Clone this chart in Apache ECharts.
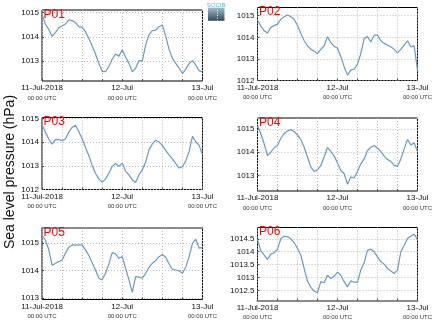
<!DOCTYPE html>
<html>
<head>
<meta charset="utf-8">
<script src="https://cdn.jsdelivr.net/npm/echarts@6/dist/echarts.min.js"></script>
<style>
  html, body { margin: 0; padding: 0; background: #fff; }
  #chart { width: 435px; height: 327px; }
</style>
</head>
<body>
<div id="chart"></div>
<script>
// Hours since 11-Jul-2018 00:00 UTC
const HOURS = [0,1,2,3,4,5,6,7,8,9,10,11,12,13,14,15,16,17,18,19,20,21,22,23,24,
               25,26,27,28,29,30,31,32,33,34,35,36,37,38,39,40,41,42,43,44,45,46,47,48];

// Time axis tick labels (hour -> date line / time line)
const X_LABEL_HOURS = [0, 24, 48];
const X_LABEL_DATES = ['11-Jul-2018', '12-Jul', '13-Jul'];
const X_LABEL_TIMES = ['00:00 UTC', '00:00 UTC', '00:00 UTC'];

// Sea level pressure (hPa), hourly, per station
const P01 = [1014.94,1014.53,1014.31,1014.02,1014.17,1014.37,1014.45,1014.53,1014.70,1014.67,
             1014.59,1014.42,1014.39,1014.21,1013.94,1013.62,1013.29,1012.90,1012.57,1012.56,
             1012.77,1013.07,1013.29,1013.20,1013.46,1013.15,1012.90,1012.55,1012.70,1013.01,
             1013.00,1013.66,1014.08,1014.26,1014.28,1014.42,1014.49,1014.03,1013.48,1013.11,
             1012.90,1012.70,1012.48,1012.66,1012.90,1013.01,1012.83,1012.60,1012.54];
const P02 = [1014.80,1014.52,1014.30,1014.20,1014.46,1014.54,1014.61,1014.83,1014.95,1015.03,
             1014.95,1014.83,1014.55,1014.18,1013.84,1013.61,1013.44,1013.36,1013.25,1013.44,
             1013.61,1014.03,1013.75,1013.59,1013.49,1013.10,1012.64,1012.25,1012.48,1012.53,
             1012.76,1013.25,1013.95,1014.03,1013.79,1014.10,1014.10,1013.84,1013.72,1013.64,
             1013.56,1013.44,1013.28,1013.44,1013.64,1013.84,1013.56,1013.60,1012.48];
const P03 = [1014.77,1014.43,1014.15,1013.92,1014.11,1014.12,1014.07,1014.14,1014.43,1014.63,
             1014.72,1014.46,1014.15,1013.78,1013.44,1013.02,1012.68,1012.45,1012.31,1012.45,
             1012.69,1012.98,1013.10,1012.98,1013.12,1012.77,1012.62,1012.41,1012.30,1012.62,
             1012.84,1013.16,1013.68,1013.93,1014.09,1014.01,1013.87,1013.66,1013.47,1013.30,
             1013.10,1012.91,1012.96,1013.22,1013.61,1014.25,1014.01,1013.87,1013.47];
const P04 = [1015.14,1014.79,1014.36,1013.85,1014.00,1014.19,1014.29,1014.60,1014.80,1014.91,
             1014.97,1014.89,1014.74,1014.54,1014.21,1013.79,1013.36,1013.17,1013.24,1013.43,
             1013.79,1014.20,1014.03,1013.83,1013.54,1013.21,1013.07,1012.62,1012.93,1012.89,
             1013.17,1013.50,1013.71,1014.07,1014.21,1014.29,1014.17,1014.03,1013.83,1013.69,
             1013.60,1013.43,1013.39,1013.71,1014.14,1014.54,1014.31,1014.40,1014.03];
const P05 = [1015.30,1015.12,1014.78,1014.20,1014.26,1014.33,1014.39,1014.63,1014.85,1014.94,
             1014.93,1014.94,1014.94,1014.76,1014.55,1014.29,1014.02,1013.72,1013.66,1013.90,
             1014.24,1014.66,1014.61,1014.45,1014.51,1014.09,1013.66,1013.20,1013.78,1013.76,
             1013.72,1013.90,1014.12,1014.27,1014.37,1014.51,1014.59,1014.49,1014.24,1014.05,
             1014.02,1013.99,1013.90,1014.12,1014.51,1015.00,1015.15,1014.82,1014.85];
const P06 = [1014.47,1014.04,1013.87,1013.70,1013.91,1013.96,1014.09,1014.51,1014.60,1014.58,
             1014.50,1014.35,1014.13,1013.87,1013.35,1012.87,1012.62,1012.47,1012.41,1012.84,
             1012.80,1013.09,1012.96,1013.05,1013.21,1013.09,1012.84,1012.64,1012.87,1012.82,
             1012.82,1013.29,1013.57,1014.06,1014.10,1014.00,1013.80,1013.61,1013.52,1013.35,
             1013.25,1013.16,1013.29,1014.00,1014.25,1014.51,1014.60,1014.68,1014.47];

// Pressure axis ticks and limits per station
const P01_TICKS = [1013, 1014, 1015];
const P02_TICKS = [1012, 1013, 1014, 1015];
const P03_TICKS = [1012, 1013, 1014, 1015];
const P04_TICKS = [1013, 1014, 1015];
const P05_TICKS = [1013, 1014, 1015];
const P06_TICKS = [1012.5, 1013, 1013.5, 1014, 1014.5];
const P01_RANGE = [1012.17, 1015.11];
const P02_RANGE = [1012.0, 1015.38];
const P03_RANGE = [1012.0, 1015.05];
const P04_RANGE = [1012.33, 1015.47];
const P05_RANGE = [1012.94, 1015.56];
const P06_RANGE = [1012.11, 1014.94];

const Y_TITLE = 'Sea level pressure (hPa)';
const LOGO_TEXT = 'SOCIB';

const FONT = '"Liberation Sans", Arial, Helvetica, sans-serif';
const LINE_COLOR = '#6a9ac4';

const PANELS = [
  { name: 'P01', values: P01, ticks: P01_TICKS, range: P01_RANGE, left: 42,    top: 10,    width: 160.5, height: 71 },
  { name: 'P02', values: P02, ticks: P02_TICKS, range: P02_RANGE, left: 257.5, top: 7.5,   width: 160,   height: 73 },
  { name: 'P03', values: P03, ticks: P03_TICKS, range: P03_RANGE, left: 42,    top: 117.5, width: 160.5, height: 72 },
  { name: 'P04', values: P04, ticks: P04_TICKS, range: P04_RANGE, left: 257.5, top: 118,   width: 160,   height: 73 },
  { name: 'P05', values: P05, ticks: P05_TICKS, range: P05_RANGE, left: 42,    top: 228,   width: 160.5, height: 71.5, topEdge: true },
  { name: 'P06', values: P06, ticks: P06_TICKS, range: P06_RANGE, left: 257.5, top: 227.5, width: 160,   height: 73,   bottomEdge: true }
];

const grid = [], xAxis = [], yAxis = [], series = [], title = [];

PANELS.forEach((p, i) => {
  grid.push({
    left: p.left, top: p.top, width: p.width, height: p.height,
    show: true, borderColor: '#000', borderWidth: 1, backgroundColor: 'transparent'
  });

  xAxis.push({
    gridIndex: i, type: 'value', min: 0, max: 48, interval: 6,
    axisLine: p.bottomEdge
      ? { show: true, lineStyle: { color: '#8a8a8a', width: 2 } }
      : { show: false },
    axisTick: { show: true, inside: true, length: 2, lineStyle: { color: '#444', width: 1 } },
    splitLine: { show: true, lineStyle: { type: [1, 2], color: '#b8b8b8', width: 1 } },
    axisLabel: {
      show: true, margin: 2, hideOverlap: false, showMinLabel: true, showMaxLabel: true,
      fontFamily: FONT,
      formatter: v => {
        const k = X_LABEL_HOURS.indexOf(v);
        if (k < 0) return '';
        return '{d|' + X_LABEL_DATES[k] + '}\n{t|' + X_LABEL_TIMES[k] + '}';
      },
      rich: {
        d: { fontSize: 8, fontFamily: FONT, color: '#111', lineHeight: 10 },
        t: { fontSize: 6, fontFamily: FONT, color: '#333', lineHeight: 10 }
      }
    }
  });

  yAxis.push({
    gridIndex: i, type: 'value', min: p.range[0], max: p.range[1],
    axisLine: { show: false },
    axisTick: { show: true, inside: true, length: 2, customValues: p.ticks,
                lineStyle: { color: '#444', width: 1 } },
    splitLine: { show: true, lineStyle: { type: [1, 2], color: '#b8b8b8', width: 1 } },
    axisLabel: { show: true, customValues: p.ticks, margin: 3, fontSize: 8,
                 fontFamily: FONT, color: '#111', formatter: v => String(v) }
  });

  series.push({
    type: 'line', xAxisIndex: i, yAxisIndex: i,
    data: HOURS.map((h, k) => [h, p.values[k]]),
    showSymbol: false, symbol: 'none', silent: true, animation: false,
    lineStyle: { color: LINE_COLOR, width: 1.2 }
  });

  title.push({
    text: p.name, left: p.left + 1.5, top: p.top - 1.5, padding: 0,
    textStyle: { color: '#ff0000', fontSize: 12, fontWeight: 'normal', fontFamily: FONT }
  });
});

// Thin grey upper edge on the P05 frame
PANELS.forEach((p, i) => {
  if (p.topEdge) {
    xAxis.push({
      gridIndex: i, type: 'value', min: 0, max: 48, interval: 6, position: 'top',
      axisLine: { show: true, lineStyle: { color: '#8a8a8a', width: 2 } },
      axisTick: { show: false }, axisLabel: { show: false }, splitLine: { show: false }
    });
  }
});

const chart = echarts.init(document.getElementById('chart'), null, { renderer: 'canvas' });
chart.setOption({
  animation: false,
  backgroundColor: '#fff',
  title,
  grid, xAxis, yAxis, series,
  graphic: [
    {
      type: 'text', x: 10, y: 172, rotation: Math.PI / 2,
      style: { text: Y_TITLE, font: '14px ' + FONT, fill: '#111', align: 'center', verticalAlign: 'middle' }
    },
    {
      type: 'group', x: 208, y: 2,
      children: [
        { type: 'text', x: 8.2, y: 0,
          style: { text: LOGO_TEXT, font: '6px ' + FONT, fill: '#4cc1dc', align: 'center', verticalAlign: 'top' } },
        { type: 'rect', shape: { x: 0, y: 5.6, width: 16.5, height: 13.2 },
          style: { fill: new echarts.graphic.LinearGradient(0, 0, 0, 1, [
            { offset: 0, color: '#9fc0cc' }, { offset: 1, color: '#34495a' }
          ]) } },
        { type: 'line', shape: { x1: 9.5, y1: 8, x2: 9.5, y2: 18.5 },
          style: { stroke: '#ffffff', lineWidth: 1, lineDash: [1, 1.5] } }
      ]
    }
  ]
});
</script>
</body>
</html>
